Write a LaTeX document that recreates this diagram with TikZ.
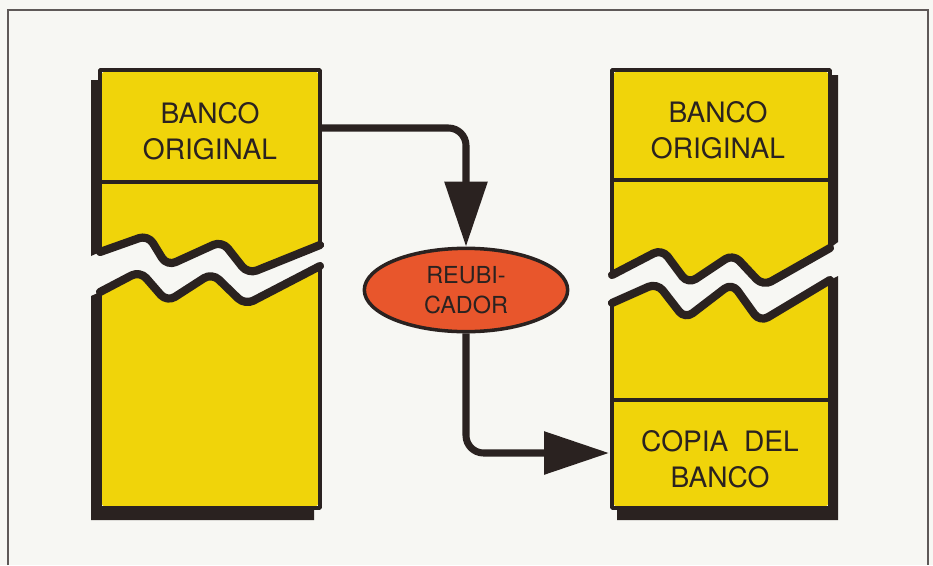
\documentclass[tikz,border=0pt]{standalone}
\usepackage{fontspec}
\setmainfont{TeX Gyre Heros}
\usetikzlibrary{shapes,arrows.meta}
\definecolor{bankyellow}{RGB}{240,212,10}
\definecolor{reubred}{RGB}{232,86,44}
\definecolor{ink}{RGB}{42,34,32}
\definecolor{paper}{RGB}{247,247,243}

\begin{document}
\begin{tikzpicture}[x=0.03cm,y=-0.03cm]
\tikzstyle{bankshadow}=[fill=ink]
\tikzstyle{bankline}=[draw=ink, line width=3pt, line join=round]
\tikzstyle{tear}=[draw=ink, line width=7pt, line cap=round, line join=round, rounded corners=8pt]
\tikzstyle{banktext}=[align=center, text=ink, font=\fontsize{24}{31}\selectfont]
\tikzstyle{flow}=[draw=ink, line width=6pt, rounded corners=15pt, -{Triangle[length=1.95cm,width=1.25cm]}]
\fill[paper] (0,0) rectangle (933,565);
\draw[ink!75, line width=1.2pt] (8,565) -- (8,10) -- (928,10) -- (928,565);

% left bank
\fill[bankshadow] (91,80) -- (100,80) -- (100,252) -- (91,256) -- cycle;
\fill[bankshadow] (91,296) -- (100,292) -- (100,508) -- (314,508) -- (314,520) -- (91,520) -- cycle;
\fill[bankyellow, rounded corners=8pt] (100,70) -- (320,70) -- (320,245) -- (248,274) -- (222,241) -- (167,266) -- (148,235) -- (100,252) -- cycle;
\fill[bankyellow, rounded corners=8pt] (100,508) -- (100,292) -- (140,271) -- (167,302) -- (212,273) -- (245,305) -- (320,266) -- (320,508) -- cycle;
\draw[bankline] (100,252) -- (100,70) -- (320,70) -- (320,245);
\draw[bankline] (100,182) -- (320,182);
\draw[bankline] (100,292) -- (100,508) -- (320,508) -- (320,266);
\draw[tear] (100,252) -- (148,235) -- (167,266) -- (222,241) -- (248,274) -- (320,245);
\draw[tear] (100,292) -- (140,271) -- (167,302) -- (212,273) -- (245,305) -- (320,266);

% right bank
\fill[bankshadow] (830,75) -- (838,75) -- (838,242) -- (830,248) -- cycle;
\fill[bankshadow] (830,280) -- (838,276) -- (838,520) -- (617,520) -- (617,508) -- (830,508) -- cycle;
\fill[bankyellow, rounded corners=8pt] (612,70) -- (830,70) -- (830,248) -- (763,286) -- (733,254) -- (688,284) -- (662,249) -- (612,275) -- cycle;
\fill[bankyellow, rounded corners=8pt] (612,508) -- (612,303) -- (657,283) -- (685,319) -- (732,283) -- (760,322) -- (830,280) -- (830,508) -- cycle;
\draw[bankline] (612,275) -- (612,70) -- (830,70) -- (830,248);
\draw[bankline] (612,180) -- (830,180);
\draw[bankline] (612,303) -- (612,508) -- (830,508) -- (830,280);
\draw[bankline] (612,400) -- (830,400);
\draw[tear] (612,275) -- (662,249) -- (688,284) -- (733,254) -- (763,286) -- (830,248);
\draw[tear] (612,303) -- (657,283) -- (685,319) -- (732,283) -- (760,322) -- (830,280);

\node[banktext] (orig-l) at (210,131) {BANCO\\ORIGINAL};
\node[banktext] (orig-r) at (718,130) {BANCO\\ORIGINAL};
\node[banktext] (copia) at (720,459) {COPIA~~DEL\\BANCO};
\node[ellipse, draw=ink, line width=3pt, fill=reubred, minimum width=6.1cm, minimum height=2.5cm,
  inner sep=0pt, align=center, text=ink, font=\fontsize{20}{26}\selectfont] (reub) at (466,290) {REUBI-\\CADOR};

\coordinate (out-l) at (320,128);
\coordinate (in-r) at (609,453);
\draw[flow] (out-l) -| (reub.north);
\draw[flow] (reub.south) |- (in-r);
\end{tikzpicture}
\end{document}
